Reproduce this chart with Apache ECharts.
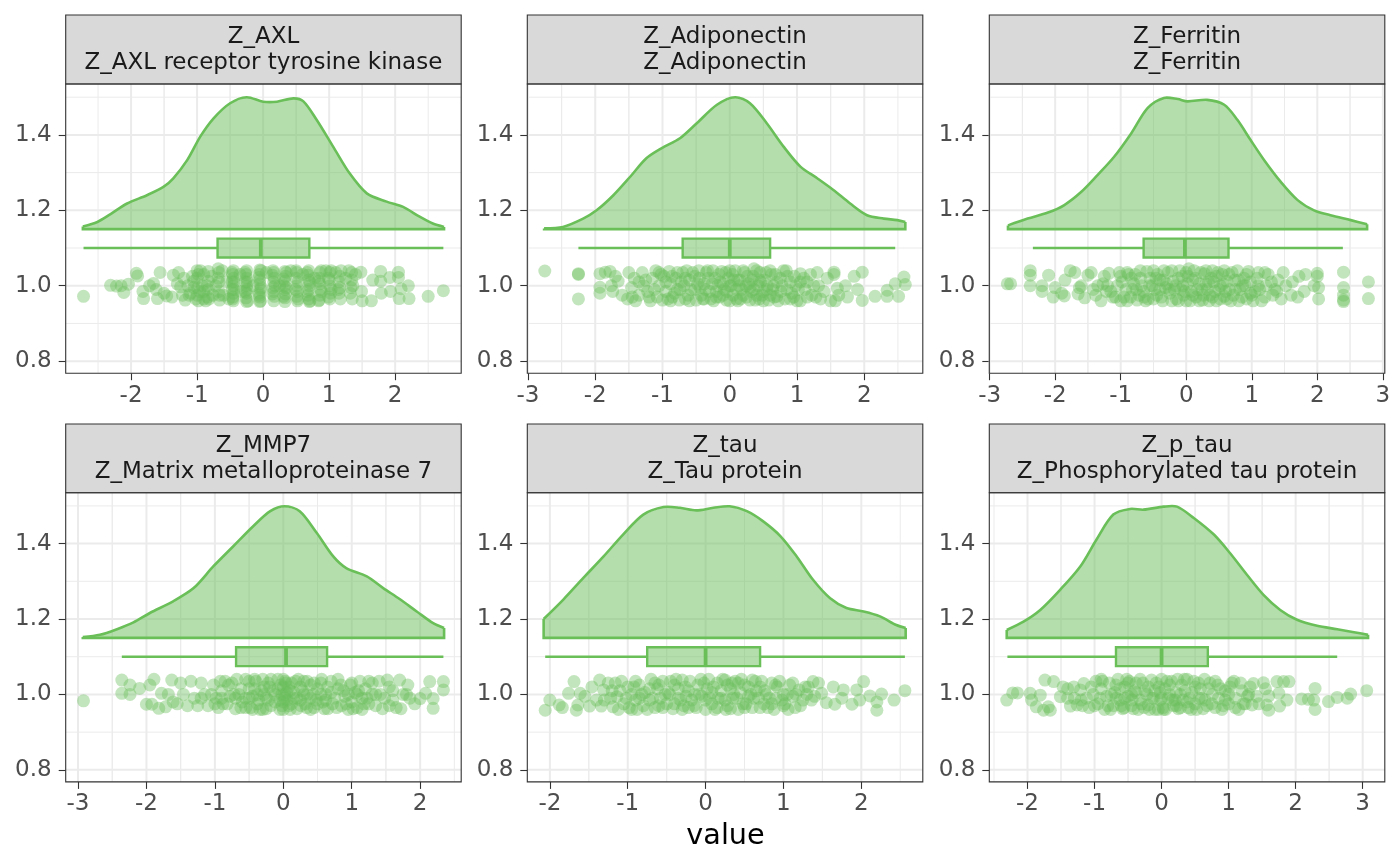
<!DOCTYPE html>
<html>
<head>
<meta charset="utf-8">
<script src="https://cdn.jsdelivr.net/npm/echarts@6/dist/echarts.min.js"></script>
<style>
html, body { margin: 0; padding: 0; background: #fff; }
#main { width: 1400px; height: 866px; }
</style>
</head>
<body>
<div id="main"></div>
<script>
var chart = echarts.init(document.getElementById('main'));

// facet labels
var panelTitles = ['Z_AXL', 'Z_Adiponectin', 'Z_Ferritin', 'Z_MMP7', 'Z_tau', 'Z_p_tau'];
var panelSubtitles = ['Z_AXL receptor tyrosine kinase', 'Z_Adiponectin', 'Z_Ferritin',
	'Z_Matrix metalloproteinase 7', 'Z_Tau protein', 'Z_Phosphorylated tau protein'];

// axis limits and breaks
var xLimits = [[-2.99, 3.0], [-3.01, 2.87], [-3.005, 3.03], [-3.18, 2.6], [-2.29, 2.79], [-2.57, 3.33]];
var xBreaks = [[-2, -1, 0, 1, 2], [-3, -2, -1, 0, 1, 2], [-3, -2, -1, 0, 1, 2, 3],
	[-3, -2, -1, 0, 1, 2], [-2, -1, 0, 1, 2], [-2, -1, 0, 1, 2, 3]];
var yLimits = [0.768, 1.535];
var yBreaks = [0.8, 1.0, 1.2, 1.4];
var yMinorBreaks = [0.9, 1.1, 1.3, 1.5];

var densBase = 1.15;
var boxMid = 1.1;
var boxHalf = 0.025;

// half violin outlines [value, height]
var densAXL = [[-2.73,1.157],[-2.51,1.169],[-2.31,1.19],[-2.06,1.218],[-1.76,1.24],[-1.51,1.262],[-1.36,1.285],
	[-1.15,1.333],[-0.95,1.396],[-0.75,1.444],[-0.5,1.484],[-0.25,1.5],[0.0,1.488],[0.21,1.488],[0.46,1.497],
	[0.61,1.489],[0.81,1.44],[1.06,1.369],[1.31,1.298],[1.57,1.245],[1.87,1.223],[2.12,1.209],[2.37,1.183],
	[2.57,1.165],[2.74,1.156]];
var densAdipo = [[-2.76,1.152],[-2.48,1.156],[-2.18,1.178],[-1.98,1.2],[-1.73,1.24],[-1.48,1.289],[-1.24,1.338],
	[-1.01,1.365],[-0.74,1.391],[-0.49,1.431],[-0.19,1.48],[0.08,1.5],[0.3,1.484],[0.55,1.431],[0.8,1.369],
	[1.05,1.316],[1.3,1.285],[1.54,1.254],[1.79,1.218],[2.04,1.187],[2.29,1.178],[2.49,1.174],[2.61,1.169]];
var densFerr = [[-2.72,1.16],[-2.42,1.178],[-2.11,1.194],[-1.86,1.214],[-1.6,1.249],[-1.35,1.294],[-1.1,1.342],
	[-0.84,1.404],[-0.59,1.471],[-0.34,1.498],[-0.13,1.495],[0.02,1.489],[0.32,1.493],[0.58,1.48],[0.78,1.44],
	[0.98,1.387],[1.19,1.333],[1.44,1.276],[1.7,1.227],[1.95,1.2],[2.2,1.187],[2.51,1.174],[2.76,1.163]];
var densMMP7 = [[-2.93,1.152],[-2.68,1.158],[-2.43,1.173],[-2.19,1.191],[-1.95,1.216],[-1.61,1.247],[-1.31,1.282],
	[-1.02,1.34],[-0.73,1.393],[-0.44,1.446],[-0.19,1.486],[0.02,1.499],[0.24,1.486],[0.49,1.428],[0.73,1.366],
	[0.92,1.335],[1.22,1.313],[1.46,1.282],[1.7,1.253],[1.95,1.22],[2.19,1.189],[2.35,1.176]];
var densTau = [[-2.08,1.2],[-1.83,1.251],[-1.57,1.309],[-1.31,1.366],[-1.06,1.424],[-0.8,1.477],[-0.54,1.497],
	[-0.33,1.495],[-0.12,1.488],[0.1,1.495],[0.31,1.499],[0.53,1.486],[0.74,1.459],[0.96,1.42],[1.17,1.366],
	[1.38,1.304],[1.6,1.255],[1.81,1.229],[2.03,1.22],[2.24,1.207],[2.45,1.184],[2.57,1.176]];
var densPtau = [[-2.31,1.171],[-2.06,1.193],[-1.81,1.224],[-1.51,1.278],[-1.21,1.34],[-0.97,1.411],[-0.72,1.477],
	[-0.47,1.492],[-0.27,1.49],[0.03,1.498],[0.23,1.498],[0.48,1.468],[0.78,1.424],[1.02,1.375],[1.27,1.318],
	[1.52,1.264],[1.77,1.224],[2.02,1.198],[2.32,1.182],[2.62,1.173],[2.87,1.165],[3.08,1.158]];

// box stats [lower whisker, q1, median, q3, upper whisker]
var boxAXL = [-2.72, -0.69, -0.035, 0.70, 2.73];
var boxAdipo = [-2.25, -0.70, 0.0, 0.60, 2.46];
var boxFerr = [-2.34, -0.65, -0.02, 0.645, 2.39];
var boxMMP7 = [-2.36, -0.69, 0.04, 0.64, 2.34];
var boxTau = [-2.06, -0.75, 0.0, 0.70, 2.56];
var boxPtau = [-2.30, -0.68, 0.0, 0.69, 2.62];

// jittered observations [value, jitter]
var ptsAXL = [[-2.72,0.972],[-2.31,1.001],[-2.22,0.999],[-2.15,1.0],[-2.11,0.982],[-2.04,1.004],[-1.92,1.033],
	[-1.9,1.026],[-1.82,0.985],[-1.81,0.966],[-1.72,1.0],[-1.66,1.006],[-1.62,0.99],[-1.6,0.966],[-1.56,1.035],
	[-1.5,0.98],[-1.46,0.973],[-1.38,0.97],[-1.36,1.028],[-1.3,1.005],[-1.25,0.997],[-1.18,0.962],[-1.14,1.0],
	[-1.1,0.98],[-1.07,1.025],[-1.0,1.04],[-1.0,1.02],[-0.99,0.995],[-1.0,0.975],[-0.98,0.96],[-0.9,1.03],
	[-0.9,0.985],[-0.9,0.965],[-0.83,1.038],[-0.83,1.012],[-0.83,0.99],[-0.84,0.97],[-0.67,1.035],[-0.67,1.01],
	[-0.67,0.985],[-0.66,0.962],[-0.45,1.04],[-0.45,1.02],[-0.45,1.0],[-0.45,0.98],[-0.45,0.96],[-0.25,1.04],
	[-0.25,1.02],[-0.25,1.0],[-0.25,0.98],[-0.25,0.958],[-0.05,1.042],[-0.05,1.015],[-0.04,0.99],[-0.05,0.97],
	[0.16,1.035],[0.16,1.01],[0.16,0.985],[0.16,0.96],[0.33,1.038],[0.33,1.012],[0.33,0.99],[0.33,0.968],
	[0.51,1.035],[0.51,1.0],[0.51,0.972],[0.52,0.96],[0.69,1.04],[0.69,1.015],[0.69,0.99],[0.69,0.965],
	[0.86,1.035],[0.86,1.005],[0.86,0.975],[1.01,1.035],[1.01,1.0],[1.01,0.965],[1.16,1.025],[1.16,0.995],
	[1.17,0.965],[1.34,1.035],[1.34,1.015],[1.32,0.98],[1.48,1.036],[1.49,0.985],[1.5,0.96],[1.64,0.96],
	[1.66,1.015],[1.78,1.038],[1.78,1.012],[1.79,0.98],[1.92,1.022],[1.93,0.985],[2.05,1.036],[2.05,1.022],
	[2.06,0.966],[2.09,0.992],[2.2,1.0],[2.21,0.966],[2.5,0.972],[2.73,0.987]];
var ptsAXLcore = [[-1.2,1.02],[-1.12,0.975],[-1.05,0.995],[-0.95,1.04],[-0.92,1.0],[-0.87,0.96],[-0.78,1.025],
	[-0.76,0.975],[-0.72,1.0],[-0.62,1.04],[-0.6,0.975],[-0.55,1.01],[-0.52,0.965],[-0.46,1.03],[-0.44,1.01],
	[-0.44,0.99],[-0.46,0.97],[-0.35,1.03],[-0.33,0.985],[-0.26,1.03],[-0.24,1.01],[-0.24,0.99],[-0.26,0.968],
	[-0.15,1.0],[-0.06,1.03],[-0.05,1.005],[-0.06,0.98],[-0.04,0.96],[0.05,1.035],[0.15,1.04],[0.17,1.02],
	[0.15,0.995],[0.17,0.972],[0.25,1.0],[0.34,1.025],[0.32,1.0],[0.34,0.978],[0.33,0.958],[0.42,1.04],
	[0.5,1.02],[0.52,0.985],[0.6,1.03],[0.68,1.028],[0.7,1.0],[0.68,0.975],[0.7,0.958],[0.78,1.02],
	[0.85,1.02],[0.87,0.99],[0.85,0.962],[0.95,1.04],[1.0,1.015],[1.02,0.98],[1.1,1.035],[1.15,1.01],
	[1.15,0.98],[1.25,1.02],[1.33,0.995],[1.35,0.965],[1.4,1.03]];
var ptsAXLband = [[-0.98,1.03],[-0.96,0.985],[-0.85,1.0],[-0.82,0.965],[-0.68,1.045],[-0.68,1.02],[-0.66,0.975],
	[-0.47,1.035],[-0.47,1.01],[-0.47,0.99],[-0.46,0.965],[-0.27,1.035],[-0.27,1.01],[-0.27,0.985],[-0.23,0.96],
	[-0.03,1.04],[-0.06,1.022],[-0.03,0.995],[-0.06,0.975],[-0.05,0.958],[0.14,1.028],[0.18,1.0],[0.14,0.978],
	[0.35,1.035],[0.31,1.018],[0.35,0.995],[0.31,0.972],[0.5,1.04],[0.53,1.01],[0.49,0.99],[0.53,0.965],
	[0.67,1.035],[0.71,1.008],[0.67,0.985],[0.71,0.96],[0.88,1.04],[0.84,1.012],[0.88,0.985],[0.84,0.96],
	[1.03,1.04],[0.99,1.02],[1.03,0.99],[0.99,0.97],[1.18,1.04],[1.14,0.99],[1.3,1.04],[1.36,1.0],
	[-1.05,1.012],[-1.02,0.965],[-1.28,1.035],[-1.22,0.975]];
var ptsAdipo = [[-2.75,1.039],[-2.25,1.032],[-2.25,1.03],[-2.25,0.965],[-1.93,1.032],[-1.93,0.996],[-1.93,0.98],
	[-1.85,1.036],[-1.78,1.038],[-1.76,1.0],[-1.74,0.985],[-1.7,1.025],[-1.66,1.012],[-1.6,0.975],[-1.52,0.965],
	[-1.5,1.035],[-1.46,0.995],[-1.42,1.02],[-1.4,0.96],[-1.35,0.975],[-1.3,1.035],[-1.28,1.0],[-1.22,0.985],
	[-1.18,0.96],[-1.15,1.02],[-1.1,1.04],[-1.08,0.97],[-1.05,1.0],[-1.0,0.962],[-0.98,1.025],[-0.95,0.985],
	[-0.9,1.038],[-0.88,1.005],[-0.85,0.97],[-0.8,1.02],[-0.78,0.99],[-0.75,0.962],[-0.7,1.035],[-0.68,1.0],
	[-0.62,0.975],[-0.6,1.015],[-0.55,1.035],[-0.52,0.99],[-0.5,0.962],[-0.45,1.02],[-0.42,0.975],[-0.38,1.005],
	[-0.35,1.035],[-0.3,0.985],[-0.28,0.965],[-0.22,1.02],[-0.18,1.0],[-0.15,0.97],[-0.12,1.038],[-0.08,0.99],
	[-0.05,0.962],[-0.02,1.02],[0.02,1.0],[0.05,0.975],[0.08,1.04],[0.12,0.96],[0.15,1.015],[0.18,0.99],
	[0.22,1.035],[0.25,0.97],[0.28,1.005],[0.32,0.985],[0.35,1.025],[0.38,0.962],[0.42,1.0],[0.45,1.035],
	[0.48,0.975],[0.52,1.015],[0.55,0.99],[0.58,0.962],[0.62,1.03],[0.65,1.0],[0.7,0.972],[0.75,1.02],
	[0.8,1.04],[0.82,0.965],[0.85,0.99],[0.9,1.01],[0.95,0.97],[1.05,1.032],[1.05,1.01],[1.05,0.96],
	[1.12,0.99],[1.2,1.03],[1.22,0.975],[1.3,1.035],[1.32,1.0],[1.35,0.965],[1.45,1.02],[1.5,0.96],
	[1.55,1.036],[1.55,1.03],[1.57,0.96],[1.6,0.993],[1.62,0.975],[1.72,1.0],[1.75,0.97],[1.85,1.025],
	[1.9,0.99],[1.97,1.036],[1.97,0.961],[2.16,0.972],[2.34,0.972],[2.34,0.988],[2.46,1.005],[2.51,0.972],
	[2.59,1.023],[2.61,1.003]];
var ptsAdipoCore = [[-1.25,1.015],[-1.12,0.99],[-1.02,1.03],[-0.92,0.965],[-0.86,1.025],[-0.82,0.98],[-0.72,1.01],
	[-0.66,0.965],[-0.64,1.04],[-0.58,0.99],[-0.48,1.005],[-0.46,1.04],[-0.4,0.965],[-0.36,0.99],[-0.32,1.02],
	[-0.25,1.04],[-0.24,0.96],[-0.2,0.985],[-0.14,1.01],[-0.1,0.975],[-0.06,1.035],[0.0,0.96],[0.0,1.0],
	[0.04,1.03],[0.1,0.99],[0.12,1.015],[0.16,0.965],[0.2,1.04],[0.24,1.0],[0.3,0.962],[0.33,1.015],
	[0.36,0.99],[0.4,1.04],[0.44,0.965],[0.46,1.01],[0.5,0.985],[0.54,1.035],[0.6,0.975],[0.64,0.99],
	[0.68,1.03],[0.72,0.96],[0.78,1.0],[0.86,1.025],[0.92,0.98],[0.98,1.0],[1.0,0.96],[1.1,1.02],
	[1.15,0.97],[1.25,1.0],[1.4,0.985]];
var ptsAdipoBand = [[-1.2,0.97],[-1.05,1.035],[-0.95,1.01],[-0.88,0.96],[-0.78,1.035],[-0.74,0.99],[-0.66,1.02],
	[-0.6,0.96],[-0.52,1.025],[-0.44,0.995],[-0.38,0.965],[-0.33,1.04],[-0.26,1.005],[-0.2,0.97],[-0.16,1.03],
	[-0.1,1.005],[-0.04,0.985],[0.0,1.04],[0.06,1.015],[0.1,0.965],[0.14,1.0],[0.2,0.975],[0.26,1.025],
	[0.3,0.995],[0.36,1.045],[0.4,0.975],[0.44,1.015],[0.5,0.96],[0.56,1.0],[0.6,1.04],[0.66,0.97],
	[0.7,1.01],[0.76,0.985],[0.84,1.04],[0.9,0.965],[0.96,1.025],[1.02,0.99],[1.15,1.01],[1.28,0.97],
	[-1.35,1.01],[-1.45,0.97]];
var ptsFerr = [[-2.73,1.005],[-2.68,1.005],[-2.38,1.04],[-2.38,1.028],[-2.38,1.0],[-2.2,1.0],[-2.2,0.985],
	[-2.1,1.028],[-2.03,0.97],[-2.0,0.995],[-1.9,0.98],[-1.86,0.973],[-1.85,1.015],[-1.77,1.04],[-1.7,1.035],
	[-1.65,0.978],[-1.63,0.995],[-1.6,1.0],[-1.55,0.968],[-1.5,1.028],[-1.45,1.035],[-1.42,0.99],[-1.38,0.975],
	[-1.35,1.0],[-1.3,0.96],[-1.27,1.005],[-1.22,0.985],[-1.18,1.033],[-1.12,0.97],[-1.02,1.035],[-1.0,0.96],
	[-0.98,1.01],[-0.92,0.99],[-0.88,1.03],[-0.85,0.97],[-0.8,1.005],[-0.75,0.962],[-0.7,1.02],[-0.65,0.985],
	[-0.6,1.038],[-0.58,0.965],[-0.52,1.0],[-0.5,1.04],[-0.45,0.975],[-0.4,1.015],[-0.36,0.96],[-0.32,0.995],
	[-0.28,1.035],[-0.25,0.98],[-0.2,1.012],[-0.15,0.965],[-0.1,1.04],[-0.08,0.99],[-0.05,1.0],[0.0,0.96],
	[0.03,1.025],[0.08,0.985],[0.12,1.04],[0.15,0.97],[0.2,1.005],[0.25,0.962],[0.28,1.032],[0.32,0.99],
	[0.36,0.975],[0.4,1.04],[0.42,1.01],[0.46,0.96],[0.5,0.99],[0.55,1.03],[0.58,0.972],[0.62,1.012],
	[0.68,0.96],[0.7,1.035],[0.75,0.99],[0.8,1.015],[0.85,0.97],[0.9,1.0],[0.95,1.038],[0.98,0.98],
	[1.02,0.96],[1.08,1.02],[1.12,0.99],[1.2,0.97],[1.25,1.03],[1.3,1.01],[1.38,0.985],[1.45,0.965],
	[1.48,1.035],[1.52,1.0],[1.6,0.975],[1.62,1.01],[1.7,0.97],[1.72,1.025],[1.8,0.985],[1.82,1.03],
	[1.95,1.0],[2.0,1.033],[2.0,1.025],[2.02,0.995],[2.02,0.965],[2.4,1.036],[2.4,0.995],[2.4,0.975],
	[2.4,0.962],[2.4,0.958],[2.78,1.01],[2.78,0.966]];
var ptsFerrCore = [[-1.25,1.025],[-1.15,0.985],[-1.05,1.0],[-0.95,0.97],[-0.9,1.035],[-0.82,0.99],[-0.78,1.03],
	[-0.72,0.975],[-0.68,1.0],[-0.62,0.96],[-0.55,1.02],[-0.48,0.99],[-0.44,1.03],[-0.38,0.97],[-0.34,1.04],
	[-0.3,1.005],[-0.22,0.96],[-0.18,0.99],[-0.12,1.02],[-0.04,0.975],[0.0,1.035],[0.02,1.005],[0.06,0.96],
	[0.1,1.015],[0.17,0.99],[0.22,1.035],[0.26,0.975],[0.3,1.005],[0.35,0.96],[0.38,1.02],[0.44,0.985],
	[0.48,1.035],[0.52,0.965],[0.56,1.005],[0.6,0.985],[0.65,1.03],[0.72,0.975],[0.78,1.04],[0.82,0.99],
	[0.88,1.02],[0.92,0.965],[0.98,1.01],[1.05,0.985],[1.1,1.035],[1.15,0.96],[1.22,1.0],[1.32,0.975],
	[1.4,1.015]];
var ptsFerrBand = [[-1.2,1.0],[-1.08,0.97],[-1.0,1.025],[-0.9,0.96],[-0.84,1.02],[-0.76,0.99],[-0.7,1.04],
	[-0.64,0.97],[-0.56,1.0],[-0.5,0.965],[-0.46,1.02],[-0.4,0.99],[-0.35,1.015],[-0.26,0.99],[-0.22,1.04],
	[-0.16,1.0],[-0.12,0.96],[-0.06,1.025],[-0.02,0.985],[0.04,1.045],[0.1,0.975],[0.14,1.02],[0.2,0.96],
	[0.24,0.99],[0.3,1.04],[0.34,1.01],[0.4,0.97],[0.46,1.025],[0.52,1.0],[0.58,1.04],[0.62,0.965],
	[0.66,0.99],[0.74,1.015],[0.8,0.96],[0.86,1.0],[0.92,1.03],[1.0,0.975],[1.1,1.0],[1.2,1.035],[1.35,0.99]];
var ptsMMP7 = [[-2.92,0.983],[-2.36,1.038],[-2.36,1.003],[-2.24,1.025],[-2.24,1.0],[-2.1,1.016],[-2.0,0.974],
	[-1.95,1.025],[-1.92,0.974],[-1.89,1.04],[-1.82,0.963],[-1.78,1.003],[-1.72,0.967],[-1.68,1.0],[-1.63,1.038],
	[-1.61,0.98],[-1.55,0.975],[-1.5,1.03],[-1.46,1.0],[-1.4,0.97],[-1.35,1.035],[-1.3,0.99],[-1.25,0.97],
	[-1.2,1.03],[-1.15,1.0],[-1.1,0.97],[-1.02,1.025],[-0.98,0.99],[-0.95,0.965],[-0.9,1.01],[-0.85,1.035],
	[-0.82,0.975],[-0.78,0.995],[-0.75,1.03],[-0.7,0.962],[-0.65,1.0],[-0.6,0.98],[-0.55,1.04],[-0.5,1.015],
	[-0.48,0.965],[-0.45,0.995],[-0.4,1.035],[-0.38,0.975],[-0.32,1.01],[-0.3,0.96],[-0.25,0.99],[-0.22,1.03],
	[-0.18,0.97],[-0.15,1.01],[-0.08,1.04],[-0.05,0.985],[-0.02,1.0],[0.0,1.04],[0.0,1.02],[0.0,0.98],
	[0.0,0.96],[0.05,1.005],[0.08,0.97],[0.12,1.03],[0.15,0.99],[0.2,0.962],[0.25,1.02],[0.3,1.0],
	[0.32,0.975],[0.35,1.035],[0.4,0.99],[0.45,0.965],[0.5,1.015],[0.55,1.03],[0.58,0.98],[0.62,1.0],
	[0.65,0.962],[0.7,1.035],[0.75,0.99],[0.8,1.015],[0.85,0.97],[0.9,0.995],[0.95,0.96],[0.98,1.025],
	[1.0,0.98],[1.05,1.005],[1.08,0.965],[1.12,1.035],[1.15,0.99],[1.2,1.015],[1.25,0.975],[1.3,1.0],
	[1.35,0.97],[1.4,1.035],[1.48,0.99],[1.52,1.038],[1.55,0.97],[1.6,1.01],[1.65,0.965],[1.7,1.038],
	[1.72,0.962],[1.75,1.0],[1.82,1.025],[1.85,0.99],[1.92,0.975],[2.0,0.989],[2.08,1.003],[2.14,1.034],
	[2.19,0.989],[2.19,0.963],[2.34,1.034],[2.34,1.012]];
var ptsMMP7Core = [[-1.2,0.99],[-1.05,1.0],[-0.92,1.035],[-0.88,0.975],[-0.72,1.0],[-0.68,1.04],[-0.62,0.965],
	[-0.55,0.99],[-0.5,1.035],[-0.45,0.96],[-0.42,1.015],[-0.36,0.985],[-0.3,1.04],[-0.28,1.0],[-0.25,0.962],
	[-0.2,1.02],[-0.12,0.98],[-0.08,1.015],[-0.05,0.96],[0.02,1.0],[0.04,1.03],[0.06,0.985],[0.1,1.01],
	[0.1,0.96],[0.18,1.035],[0.2,0.99],[0.26,0.97],[0.3,1.035],[0.35,1.0],[0.4,0.96],[0.45,1.03],
	[0.48,0.985],[0.55,1.0],[0.6,0.962],[0.65,1.02],[0.72,0.975],[0.8,1.04],[0.88,1.01],[0.95,1.0],
	[1.02,0.962],[1.1,1.01],[1.18,0.975],[1.25,1.035],[1.35,1.0],[1.45,0.962],[1.55,1.02]];
var ptsMMP7Band = [[-1.0,0.975],[-0.9,0.99],[-0.8,1.025],[-0.7,0.99],[-0.62,1.015],[-0.55,0.965],[-0.5,0.99],
	[-0.42,1.04],[-0.38,1.0],[-0.34,0.96],[-0.28,1.02],[-0.22,0.985],[-0.18,1.04],[-0.12,1.0],[-0.04,1.025],
	[-0.02,0.97],[0.02,0.99],[0.03,1.035],[0.08,1.02],[0.12,0.975],[0.16,1.005],[0.22,1.04],[0.25,0.985],
	[0.28,1.01],[0.34,0.965],[0.4,1.025],[0.44,1.0],[0.5,0.975],[0.56,1.04],[0.62,0.985],[0.7,1.005],
	[0.78,0.965],[0.84,1.025],[0.92,0.975],[1.0,1.03],[1.08,1.0],[1.15,0.96],[1.22,0.99],[1.3,1.03],
	[1.42,1.0],[1.6,0.985],[1.8,1.0]];
var ptsTau = [[-2.06,0.958],[-2.0,0.985],[-1.88,0.972],[-1.84,0.965],[-1.76,1.003],[-1.69,1.034],[-1.66,0.958],
	[-1.64,0.972],[-1.61,1.003],[-1.55,0.995],[-1.49,0.969],[-1.46,1.02],[-1.4,0.985],[-1.36,1.038],[-1.34,0.969],
	[-1.31,1.012],[-1.25,1.03],[-1.22,0.99],[-1.19,0.967],[-1.16,1.03],[-1.14,0.994],[-1.1,1.01],[-1.05,0.975],
	[-1.0,1.02],[-0.98,0.965],[-0.95,1.0],[-0.9,0.985],[-0.88,0.96],[-0.85,1.025],[-0.8,0.97],[-0.78,1.005],
	[-0.72,0.985],[-0.7,1.04],[-0.65,0.965],[-0.62,1.015],[-0.58,0.99],[-0.55,1.035],[-0.5,0.975],[-0.48,1.005],
	[-0.42,0.962],[-0.4,1.025],[-0.35,0.99],[-0.3,1.038],[-0.28,0.97],[-0.22,1.01],[-0.18,0.985],[-0.12,0.965],
	[-0.1,1.025],[-0.05,0.995],[0.0,0.96],[0.02,1.015],[0.08,0.975],[0.12,0.96],[0.15,1.03],[0.2,0.99],
	[0.25,1.038],[0.28,0.97],[0.32,1.015],[0.35,0.99],[0.38,1.035],[0.42,0.96],[0.45,1.005],[0.5,1.025],
	[0.52,0.975],[0.55,0.995],[0.6,1.038],[0.65,1.01],[0.68,0.99],[0.7,1.02],[0.75,0.975],[0.8,0.965],
	[0.85,1.03],[0.88,0.96],[0.9,0.99],[0.95,1.035],[1.0,1.0],[1.02,0.975],[1.08,1.025],[1.12,0.995],
	[1.15,0.965],[1.2,1.012],[1.25,0.985],[1.3,1.0],[1.36,0.985],[1.38,1.034],[1.45,1.03],[1.49,1.003],
	[1.55,0.978],[1.64,1.02],[1.66,0.974],[1.75,0.99],[1.77,1.012],[1.88,0.974],[1.94,1.012],[1.98,0.985],
	[2.03,1.034],[2.11,0.996],[2.2,0.98],[2.2,0.958],[2.26,1.001],[2.42,0.985],[2.56,1.01]];
var ptsTauCore = [[-1.2,1.01],[-1.08,1.035],[-0.95,0.96],[-0.92,1.02],[-0.85,0.99],[-0.75,0.96],[-0.72,1.015],
	[-0.65,1.03],[-0.6,0.97],[-0.52,1.0],[-0.45,1.035],[-0.4,0.975],[-0.35,1.015],[-0.3,0.96],[-0.25,0.995],
	[-0.2,1.035],[-0.15,0.97],[-0.08,1.0],[-0.02,1.03],[0.05,0.99],[0.1,1.02],[0.15,0.965],[0.2,1.01],
	[0.25,0.985],[0.28,1.025],[0.32,0.962],[0.36,1.0],[0.42,1.03],[0.48,0.975],[0.55,1.02],[0.6,0.965],
	[0.62,0.99],[0.72,1.035],[0.78,1.0],[0.85,0.975],[0.92,1.02],[1.0,0.97],[1.05,1.0],[1.12,1.03],
	[1.22,0.97],[1.28,1.02],[1.4,0.995]];
var ptsTauBand = [[-1.3,0.985],[-1.12,0.96],[-1.02,0.99],[-0.9,1.035],[-0.82,1.0],[-0.68,0.99],[-0.6,1.025],
	[-0.55,0.965],[-0.46,1.0],[-0.38,1.04],[-0.32,0.985],[-0.26,1.02],[-0.22,0.965],[-0.14,1.0],[-0.06,1.04],
	[0.0,0.985],[0.04,1.04],[0.08,1.005],[0.16,0.99],[0.22,1.04],[0.26,0.96],[0.34,1.03],[0.4,0.99],
	[0.46,1.04],[0.5,0.965],[0.58,1.0],[0.64,1.035],[0.7,0.965],[0.76,1.01],[0.82,0.99],[0.9,1.025],
	[0.98,0.985],[1.06,0.96],[1.16,1.0],[1.32,1.02]];
var ptsPtau = [[-2.31,0.985],[-2.22,1.004],[-2.15,1.004],[-1.96,1.003],[-1.94,0.985],[-1.87,0.967],[-1.81,0.998],
	[-1.76,0.958],[-1.74,1.038],[-1.69,0.967],[-1.66,0.958],[-1.61,1.034],[-1.51,0.994],[-1.47,1.02],[-1.4,0.99],
	[-1.36,0.969],[-1.31,1.02],[-1.26,0.972],[-1.21,1.012],[-1.16,1.029],[-1.12,0.99],[-1.08,0.965],[-1.02,1.0],
	[-0.98,1.035],[-0.95,0.975],[-0.9,1.015],[-0.85,0.96],[-0.82,0.995],[-0.78,1.03],[-0.72,0.97],[-0.7,1.005],
	[-0.65,1.04],[-0.62,0.985],[-0.58,0.962],[-0.55,1.02],[-0.5,0.995],[-0.48,1.035],[-0.45,0.97],[-0.4,1.01],
	[-0.35,0.96],[-0.32,0.985],[-0.28,1.03],[-0.22,1.0],[-0.2,0.972],[-0.15,1.038],[-0.1,1.01],[-0.05,0.96],
	[-0.02,0.985],[0.0,1.04],[0.02,0.965],[0.05,1.015],[0.1,0.99],[0.15,1.035],[0.18,0.97],[0.22,1.005],
	[0.25,0.962],[0.3,1.025],[0.32,0.985],[0.38,1.04],[0.4,0.965],[0.45,1.005],[0.5,0.975],[0.55,1.03],
	[0.6,0.99],[0.62,0.962],[0.7,1.015],[0.75,0.975],[0.8,1.035],[0.85,0.99],[0.9,0.96],[0.95,1.01],
	[1.0,0.975],[1.05,1.03],[1.1,0.99],[1.15,0.96],[1.2,1.01],[1.25,0.975],[1.3,1.0],[1.35,0.972],
	[1.37,1.029],[1.42,0.995],[1.52,1.031],[1.57,0.972],[1.6,0.996],[1.6,0.958],[1.72,1.034],[1.75,1.003],
	[1.76,0.969],[1.82,1.034],[1.87,0.985],[1.9,1.034],[2.09,0.988],[2.19,0.987],[2.27,0.985],[2.29,1.016],
	[2.29,0.96],[2.49,0.981],[2.62,0.992],[2.77,0.99],[2.82,1.001],[3.06,1.01]];
var ptsPtauCore = [[-1.3,0.99],[-1.18,0.97],[-1.05,1.02],[-0.92,0.99],[-0.88,1.035],[-0.8,0.97],[-0.75,1.0],
	[-0.68,1.025],[-0.6,0.97],[-0.55,0.99],[-0.52,1.04],[-0.45,1.0],[-0.42,0.962],[-0.38,1.03],[-0.3,0.975],
	[-0.25,1.01],[-0.18,0.96],[-0.12,0.99],[-0.08,1.03],[-0.02,1.005],[0.03,0.96],[0.08,1.035],[0.12,1.0],
	[0.2,0.985],[0.24,1.04],[0.28,0.965],[0.35,1.01],[0.42,0.99],[0.48,1.035],[0.52,0.96],[0.58,1.015],
	[0.65,0.985],[0.72,1.03],[0.8,0.965],[0.88,1.015],[0.95,0.985],[1.02,1.02],[1.1,0.965],[1.18,1.03],
	[1.28,0.995],[1.45,0.975],[1.55,1.015]];
var ptsPtauBand = [[-1.4,1.015],[-1.2,0.985],[-1.0,0.97],[-0.9,1.04],[-0.76,0.96],[-0.68,0.99],[-0.62,1.015],
	[-0.56,0.965],[-0.5,1.03],[-0.44,0.985],[-0.38,1.005],[-0.32,1.04],[-0.26,0.965],[-0.2,1.02],[-0.14,0.99],
	[-0.1,0.96],[-0.04,1.02],[0.0,0.99],[0.06,0.96],[0.12,1.025],[0.16,0.985],[0.22,0.97],[0.28,1.0],
	[0.34,1.04],[0.38,0.98],[0.44,0.96],[0.5,1.02],[0.56,0.99],[0.64,1.04],[0.68,0.97],[0.76,1.0],
	[0.84,1.025],[0.92,0.97],[1.0,1.0],[1.08,1.035],[1.22,0.975],[1.32,1.02]];

var densities = [densAXL, densAdipo, densFerr, densMMP7, densTau, densPtau];
var boxes = [boxAXL, boxAdipo, boxFerr, boxMMP7, boxTau, boxPtau];
var points = [ptsAXL.concat(ptsAXLcore, ptsAXLband), ptsAdipo.concat(ptsAdipoCore, ptsAdipoBand),
	ptsFerr.concat(ptsFerrCore, ptsFerrBand), ptsMMP7.concat(ptsMMP7Core, ptsMMP7Band),
	ptsTau.concat(ptsTauCore, ptsTauBand), ptsPtau.concat(ptsPtauCore, ptsPtauBand)];

// layout (px)
var colLeft = [65.7, 527.3, 989.3];
var panelW = 395.5;
var stripTop = [15, 424];
var plotTop = [84, 492.7];
var plotH = 289.2;

var green = '#6ABF59';
var greenFill = 'rgba(106,191,89,0.5)';
var font = 'DejaVu Sans';

function gridLineItem(params, api) {
	var cs = params.coordSys;
	var v = api.value(0), dir = api.value(1), major = api.value(2);
	var style = { stroke: '#EBEBEB', lineWidth: major ? 2 : 1 };
	if (dir === 0) {
		var x = api.coord([v, 1])[0];
		return { type: 'line', shape: { x1: x, y1: cs.y, x2: x, y2: cs.y + cs.height }, style: style };
	}
	var y = api.coord([0, v])[1];
	return { type: 'line', shape: { x1: cs.x, y1: y, x2: cs.x + cs.width, y2: y }, style: style };
}

function densityItem(dens) {
	return function (params, api) {
		var top = dens.map(function (d) { return api.coord(d); });
		var a = api.coord([dens[0][0], densBase]);
		var b = api.coord([dens[dens.length - 1][0], densBase]);
		var poly = [a].concat(top, [b]);
		return {
			type: 'group',
			children: [
				{ type: 'polygon', shape: { points: poly }, style: { fill: greenFill } },
				{ type: 'polyline', shape: { points: top, smooth: 0.3 }, style: { fill: null, stroke: green, lineWidth: 2.6 } },
				{ type: 'polyline', shape: { points: [top[top.length - 1], b, a, top[0]] },
					style: { fill: null, stroke: green, lineWidth: 2.6 } }
			]
		};
	};
}

function boxItem(params, api) {
	var lo = api.coord([api.value(0), boxMid]);
	var q1t = api.coord([api.value(1), boxMid + boxHalf]);
	var q3b = api.coord([api.value(3), boxMid - boxHalf]);
	var medT = api.coord([api.value(2), boxMid + boxHalf]);
	var medB = api.coord([api.value(2), boxMid - boxHalf]);
	var q1m = api.coord([api.value(1), boxMid]);
	var q3m = api.coord([api.value(3), boxMid]);
	var hi = api.coord([api.value(4), boxMid]);
	var st = { stroke: green, lineWidth: 2.4 };
	return {
		type: 'group',
		children: [
			{ type: 'line', shape: { x1: lo[0], y1: lo[1], x2: q1m[0], y2: q1m[1] }, style: st },
			{ type: 'line', shape: { x1: q3m[0], y1: q3m[1], x2: hi[0], y2: hi[1] }, style: st },
			{ type: 'rect', shape: { x: q1t[0], y: q1t[1], width: q3b[0] - q1t[0], height: q3b[1] - q1t[1] },
				style: { fill: greenFill, stroke: green, lineWidth: 2.4 } },
			{ type: 'line', shape: { x1: medT[0], y1: medT[1], x2: medB[0], y2: medB[1] },
				style: { stroke: green, lineWidth: 3.8 } }
		]
	};
}

var grids = [], xAxes = [], yAxes = [], series = [], graphics = [];

for (var i = 0; i < 6; i++) {
	var row = Math.floor(i / 3), col = i % 3;
	var left = colLeft[col];

	grids.push({ left: left, top: plotTop[row], width: panelW, height: plotH, show: true,
		backgroundColor: '#fff', borderWidth: 0, containLabel: false });

	xAxes.push({
		gridIndex: i, type: 'value', min: xLimits[i][0], max: xLimits[i][1],
		axisLine: { show: false, onZero: false },
		axisTick: { show: true, length: 7, customValues: xBreaks[i], lineStyle: { color: '#333', width: 1.1 } },
		axisLabel: { customValues: xBreaks[i], color: '#4D4D4D', fontSize: 23, fontFamily: font, margin: 11 },
		splitLine: { show: false }
	});
	yAxes.push({
		gridIndex: i, type: 'value', min: yLimits[0], max: yLimits[1],
		axisLine: { show: false, onZero: false },
		axisTick: { show: true, length: 7, customValues: yBreaks, lineStyle: { color: '#333', width: 1.1 } },
		axisLabel: { customValues: yBreaks, color: '#4D4D4D', fontSize: 23, fontFamily: font, margin: 14,
			formatter: function (v) { return v.toFixed(1); } },
		splitLine: { show: false }
	});

	// grid lines: major at breaks, minor half way
	var gl = [];
	xBreaks[i].forEach(function (t) {
		if (t > xLimits[i][0] && t < xLimits[i][1]) gl.push([t, 0, 1]);
		if (t + 0.5 > xLimits[i][0] && t + 0.5 < xLimits[i][1]) gl.push([t + 0.5, 0, 0]);
		if (t - 0.5 > xLimits[i][0] && t - 0.5 < xLimits[i][1]) gl.push([t - 0.5, 0, 0]);
	});
	yBreaks.forEach(function (t) { gl.push([t, 1, 1]); });
	yMinorBreaks.forEach(function (t) { gl.push([t, 1, 0]); });

	series.push({ type: 'custom', xAxisIndex: i, yAxisIndex: i, renderItem: gridLineItem, data: gl, z: 1, silent: true });
	series.push({ type: 'custom', xAxisIndex: i, yAxisIndex: i, renderItem: densityItem(densities[i]),
		data: [[0, densBase]], z: 2, silent: true });
	series.push({ type: 'custom', xAxisIndex: i, yAxisIndex: i, renderItem: boxItem,
		data: [boxes[i]], z: 3, silent: true });
	series.push({ type: 'scatter', xAxisIndex: i, yAxisIndex: i, data: points[i], symbolSize: 13,
		itemStyle: { color: greenFill, borderWidth: 0 }, z: 4, silent: true, large: false });

	// strip and panel border
	graphics.push({ type: 'rect', shape: { x: left, y: stripTop[row], width: panelW, height: plotTop[row] - stripTop[row] },
		style: { fill: '#D9D9D9', stroke: '#333', lineWidth: 1.1 }, z: 50 });
	graphics.push({ type: 'text', z: 51, style: { text: panelTitles[i], x: left + panelW / 2, y: stripTop[row] + 22.5,
		align: 'center', verticalAlign: 'middle', fontSize: 23, fontFamily: font, fill: '#1A1A1A' } });
	graphics.push({ type: 'text', z: 51, style: { text: panelSubtitles[i], x: left + panelW / 2, y: stripTop[row] + 48,
		align: 'center', verticalAlign: 'middle', fontSize: 23, fontFamily: font, fill: '#1A1A1A' } });
	graphics.push({ type: 'rect', shape: { x: left, y: plotTop[row], width: panelW, height: plotH },
		style: { fill: null, stroke: '#333', lineWidth: 1.1 }, z: 50 });
}

graphics.push({ type: 'text', z: 51, style: { text: 'value', x: 725.5, y: 837, align: 'center', verticalAlign: 'middle',
	fontSize: 28.7, fontFamily: font, fill: '#000' } });

var option = {
	backgroundColor: '#fff',
	animation: false,
	grid: grids,
	xAxis: xAxes,
	yAxis: yAxes,
	series: series,
	graphic: graphics
};

chart.setOption(option);
</script>
</body>
</html>
